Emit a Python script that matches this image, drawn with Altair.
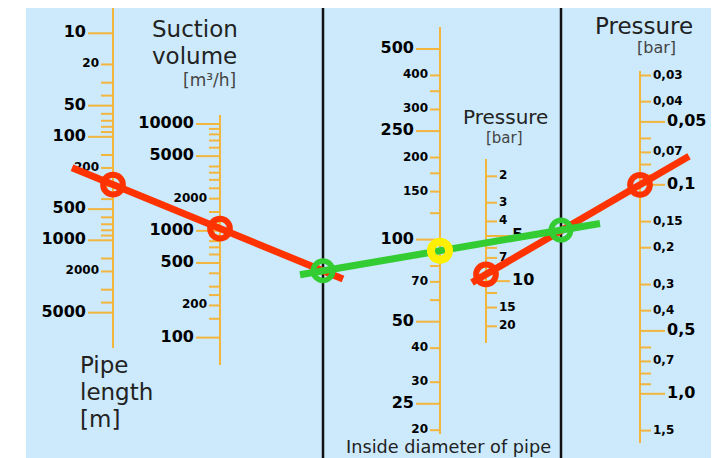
import altair as alt
import numpy as np
import pandas as pd

# ---------------- values ----------------
pipe_ticks = [10, 20, 30, 40, 50, 60, 70, 80, 90, 100, 150, 200, 300, 400, 500,
              600, 700, 800, 900, 1000, 1500, 2000, 3000, 4000, 5000]
pipe_major = [10, 50, 100, 500, 1000, 5000]
pipe_minor_lab = [20, 200, 2000]

suction_ticks = [10000, 9000, 8000, 7000, 6000, 5000, 4000, 3500, 3000, 2500, 2000,
                 1500, 1200, 1000, 900, 800, 700, 600, 500, 400, 300, 250, 200, 150, 100]
suction_major = [10000, 5000, 1000, 500, 100]
suction_minor_lab = [2000, 200]

diam_ticks = [500, 400, 350, 300, 250, 200, 175, 150, 125, 100, 90, 80, 70, 60,
              50, 40, 30, 25, 20]
diam_major = [500, 250, 100, 50, 25]
diam_minor_lab = [400, 300, 200, 150, 70, 40, 30, 20]

pin_ticks = [2, 3, 4, 5, 6, 7, 8, 9, 10, 12, 15, 20]
pin_major = [5, 10]
pin_minor_lab = [2, 3, 4, 7, 15, 20]

pout_ticks = [0.03, 0.04, 0.05, 0.06, 0.07, 0.08, 0.09, 0.1, 0.15, 0.2, 0.3, 0.4,
              0.5, 0.6, 0.7, 0.8, 0.9, 1.0, 1.5]
pout_major = [0.05, 0.1, 0.5, 1.0]
pout_minor_lab = [0.03, 0.04, 0.07, 0.15, 0.2, 0.3, 0.4, 0.7, 1.5]

# example reading drawn on the nomogram
ex_pipe = 290        # m
ex_suction = 1050    # m3/h
ex_diam = 91         # mm
ex_pin = 9           # bar
ex_pout = 0.1        # bar

# ---------------- geometry of the scales (layout only) ----------------
AX = {
    "pipe":    dict(x=113, top=8,   bot=348, v0=10,    y0=33.3,  ppd=103.5,  side=-1, maj=25, mnr=12),
    "suction": dict(x=220, top=115, bot=365, v0=10000, y0=124.0, ppd=-106.8, side=-1, maj=24, mnr=11),
    "diam":    dict(x=440, top=27,  bot=434, v0=500,   y0=49.0,  ppd=-272.7, side=-1, maj=24, mnr=10),
    "pin":     dict(x=486, top=159, bot=343, v0=2,     y0=176.3, ppd=150.0,  side=1,  maj=24, mnr=11),
    "pout":    dict(x=640, top=71,  bot=443, v0=1,     y0=393.8, ppd=209.0,  side=1,  maj=25, mnr=11),
}
TURN_X = [323, 561]

def ypos(name, v):
    a = AX[name]
    return a["y0"] + a["ppd"] * (np.log10(v) - np.log10(a["v0"]))

def fmt(name, v):
    if name == "pout":
        return str(v).replace(".", ",")
    return str(v)

axes_data = {
    "pipe": (pipe_ticks, pipe_major, pipe_minor_lab),
    "suction": (suction_ticks, suction_major, suction_minor_lab),
    "diam": (diam_ticks, diam_major, diam_minor_lab),
    "pin": (pin_ticks, pin_major, pin_minor_lab),
    "pout": (pout_ticks, pout_major, pout_minor_lab),
}

tick_rows, lab_rows, line_rows = [], [], []
for name, (ticks, major, minor_lab) in axes_data.items():
    a = AX[name]
    line_rows.append(dict(x=a["x"], y=a["top"], y2=a["bot"]))
    for v in ticks:
        ln = a["maj"] if v in major else a["mnr"]
        y = ypos(name, v)
        tick_rows.append(dict(x=a["x"], x2=a["x"] + a["side"] * ln, y=y))
        if v in major or v in minor_lab:
            lab_rows.append(dict(
                x=a["x"] + a["side"] * (ln + 2), y=y, text=fmt(name, v),
                fs=16 if v in major else 12,
                side="L" if a["side"] < 0 else "R"))

ticks_df = pd.DataFrame(tick_rows)
labs_df = pd.DataFrame(lab_rows)
axlines_df = pd.DataFrame(line_rows)
turn_df = pd.DataFrame({"x": TURN_X, "y": [8, 8], "y2": [458, 458]})

# example reading lines
def through(p, q, xs, xe):
    k = (q[1] - p[1]) / (q[0] - p[0])
    return dict(x=xs, y=p[1] + k * (xs - p[0]), x2=xe, y2=p[1] + k * (xe - p[0]))

P_pipe = (AX["pipe"]["x"], ypos("pipe", ex_pipe))
P_suc = (AX["suction"]["x"], ypos("suction", ex_suction))
r1 = through(P_pipe, P_suc, 72, 343)
k1 = (P_suc[1] - P_pipe[1]) / (P_suc[0] - P_pipe[0])
I1 = (TURN_X[0], P_pipe[1] + k1 * (TURN_X[0] - P_pipe[0]))
P_d = (AX["diam"]["x"], ypos("diam", ex_diam))
g1 = through(I1, P_d, 300, 600)
k2 = (P_d[1] - I1[1]) / (P_d[0] - I1[0])
I2 = (TURN_X[1], I1[1] + k2 * (TURN_X[1] - I1[0]))
P_pin = (AX["pin"]["x"], ypos("pin", ex_pin))
P_pout = (AX["pout"]["x"], ypos("pout", ex_pout))
r2 = through(P_pin, P_pout, 472, 689)

red_df = pd.DataFrame([r1, r2])
green_df = pd.DataFrame([g1])
red_pts = pd.DataFrame([P_pipe, P_suc, P_pin, P_pout], columns=["x", "y"])
green_pts = pd.DataFrame([I1, I2], columns=["x", "y"])
yellow_pts = pd.DataFrame([P_d], columns=["x", "y"])

titles = pd.DataFrame([
    dict(text="Suction", x=152, y=37, fs=23, c="#222222"),
    dict(text="volume", x=152, y=64, fs=23, c="#222222"),
    dict(text="[m³/h]", x=183, y=85.5, fs=17, c="#444444"),
    dict(text="Pipe", x=80, y=373, fs=23, c="#222222"),
    dict(text="length", x=80, y=400, fs=23, c="#222222"),
    dict(text="[m]", x=80, y=427, fs=23, c="#222222"),
    dict(text="Pressure", x=463, y=124, fs=20, c="#222222"),
    dict(text="[bar]", x=486, y=143, fs=15, c="#444444"),
    dict(text="Pressure", x=595, y=33.5, fs=23, c="#222222"),
    dict(text="[bar]", x=637, y=52.5, fs=16, c="#444444"),
    dict(text="Inside diameter of pipe", x=346, y=453, fs=17.7, c="#222222"),
])

# ---------------- chart ----------------
W, H = 703, 450
XS = alt.Scale(domain=[8, 8 + W], nice=False, zero=False)
YS = alt.Scale(domain=[8, 8 + H], nice=False, zero=False, reverse=True)
X = lambda f: alt.X(f, type="quantitative", scale=XS, axis=None)
Y = lambda f: alt.Y(f, type="quantitative", scale=YS, axis=None)

ORANGE = "#f2b53e"
RED = "#ff3300"
GREEN = "#33cc33"
YELLOW = "#fff000"
FONT = "DejaVu Sans"

bg = alt.Chart(pd.DataFrame({"a": [0]})).mark_rect(color="#cceafc").encode(
    x=alt.value(18), x2=alt.value(W), y=alt.value(0), y2=alt.value(H))

turn = alt.Chart(turn_df).mark_rule(color="#111111", strokeWidth=2.5).encode(
    x=X("x"), y=Y("y"), y2="y2")

axl = alt.Chart(axlines_df).mark_rule(color=ORANGE, strokeWidth=2).encode(
    x=X("x"), y=Y("y"), y2="y2")

tk = alt.Chart(ticks_df).mark_rule(color=ORANGE, strokeWidth=2).encode(
    x=X("x"), x2="x2", y=Y("y"))

def labels(side, align):
    return alt.Chart(labs_df[labs_df.side == side]).mark_text(
        align=align, baseline="middle", font=FONT, fontWeight="bold",
        color="#000000", dy=-1).encode(
        x=X("x"), y=Y("y"), text="text:N", size=alt.Size("fs:Q", scale=None))

ttl = alt.Chart(titles).mark_text(align="left", baseline="alphabetic", font=FONT).encode(
    x=X("x"), y=Y("y"), text="text:N",
    size=alt.Size("fs:Q", scale=None), color=alt.Color("c:N", scale=None))

red_lines = alt.Chart(red_df).mark_rule(color=RED, strokeWidth=7, strokeCap="butt").encode(
    x=X("x"), y=Y("y"), x2="x2", y2="y2")
green_line = alt.Chart(green_df).mark_rule(color=GREEN, strokeWidth=7, strokeCap="butt").encode(
    x=X("x"), y=Y("y"), x2="x2", y2="y2")

def rings(df, color, size, sw):
    return alt.Chart(df).mark_point(shape="circle", filled=False, color=color,
                                    size=size, strokeWidth=sw, opacity=1).encode(
        x=X("x"), y=Y("y"))

chart = alt.layer(
    bg, turn, axl, tk, labels("L", "right"), labels("R", "left"), ttl,
    red_lines, green_line,
    rings(red_pts, RED, 390, 6), rings(green_pts, GREEN, 380, 5.5),
    rings(yellow_pts, YELLOW, 330, 8),
).properties(
    width=W, height=H, padding=0, autosize=alt.AutoSizeParams(type="none"),
    background="white",
).configure_view(stroke=None)

chart.save("out.html", embed_options={"renderer": "svg", "actions": False})
